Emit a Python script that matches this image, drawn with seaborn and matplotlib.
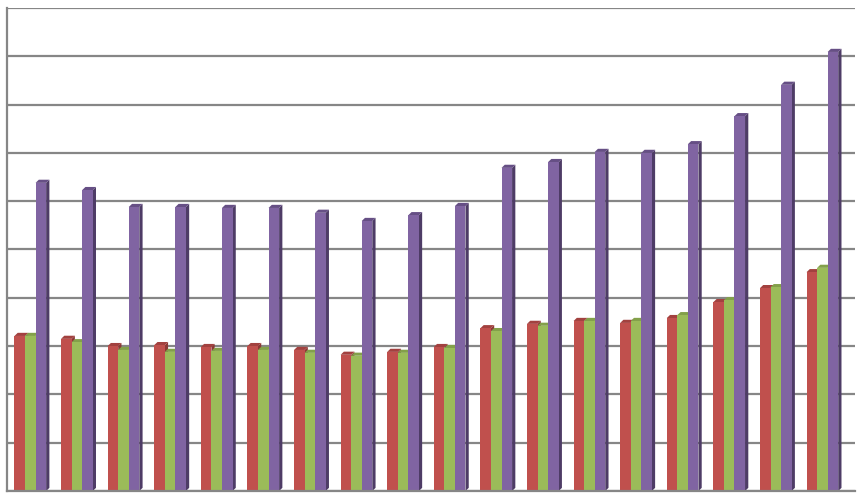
import seaborn as sns
import matplotlib.pyplot as plt
from matplotlib.patches import Polygon
import pandas as pd

categories = [str(i) for i in range(1, 19)]
red_vals = [3.21, 3.15, 3.00, 3.02, 2.98, 3.00, 2.92, 2.82, 2.88, 2.98,
            3.37, 3.46, 3.52, 3.48, 3.58, 3.91, 4.20, 4.53]
green_vals = [3.21, 3.08, 2.92, 2.88, 2.90, 2.92, 2.86, 2.80, 2.86, 2.96,
              3.31, 3.42, 3.52, 3.52, 3.64, 3.95, 4.22, 4.62]
purple_vals = [6.38, 6.23, 5.88, 5.88, 5.86, 5.86, 5.76, 5.59, 5.71, 5.90,
               6.69, 6.81, 7.02, 7.00, 7.18, 7.76, 8.41, 9.09]
series = ["Series 1", "Series 2", "Series 3"]

front = ["#C0504D", "#9BBB59", "#8064A2"]
side = ["#8C3836", "#71893F", "#4E3C66"]
top = ["#A2413F", "#83A04A", "#664F85"]

df = pd.DataFrame({
    "cat": categories * 3,
    "value": red_vals + green_vals + purple_vals,
    "series": [s for s in series for _ in categories],
})

sns.set_style("white")
fig = plt.figure(figsize=(8.61, 4.97), dpi=100)
ax = fig.add_axes([7 / 861, 6 / 497, 848 / 861, 483 / 497])

sns.barplot(data=df, x="cat", y="value", hue="series", palette=front,
            width=0.68, gap=0, saturation=1, legend=False, ax=ax,
            edgecolor="none", zorder=2)

# fake 3d: side and top faces behind the front faces
dx, dy = 0.07, 0.065
bars = [p for p in ax.patches]
n = len(categories)
for i, p in enumerate(bars):
    k = i // n
    x, w, h = p.get_x(), p.get_width(), p.get_height()
    ax.add_patch(Polygon([(x + w, 0), (x + w + dx, dy), (x + w + dx, h + dy), (x + w, h)],
                         closed=True, facecolor=side[k], edgecolor="none", zorder=1.5))
    ax.add_patch(Polygon([(x, h), (x + dx, h + dy), (x + w + dx, h + dy), (x + w, h)],
                         closed=True, facecolor=top[k], edgecolor="none", zorder=1.6))

ax.set_xlim(-0.5, 17.7)
ax.set_ylim(0, 10)
ax.set_yticks(range(0, 11))
ax.set_xticks([])
ax.set_yticklabels([])
ax.yaxis.grid(True, color="#868686", linewidth=1.6, zorder=0)
ax.set_axisbelow(True)
ax.tick_params(left=False, bottom=False)
for s in ["top", "right"]:
    ax.spines[s].set_visible(False)
for s in ["left", "bottom"]:
    ax.spines[s].set_color("#868686")
    ax.spines[s].set_linewidth(1.6)
ax.set_xlabel("")
ax.set_ylabel("")

plt.savefig("out.png", dpi=100)
plt.close()
